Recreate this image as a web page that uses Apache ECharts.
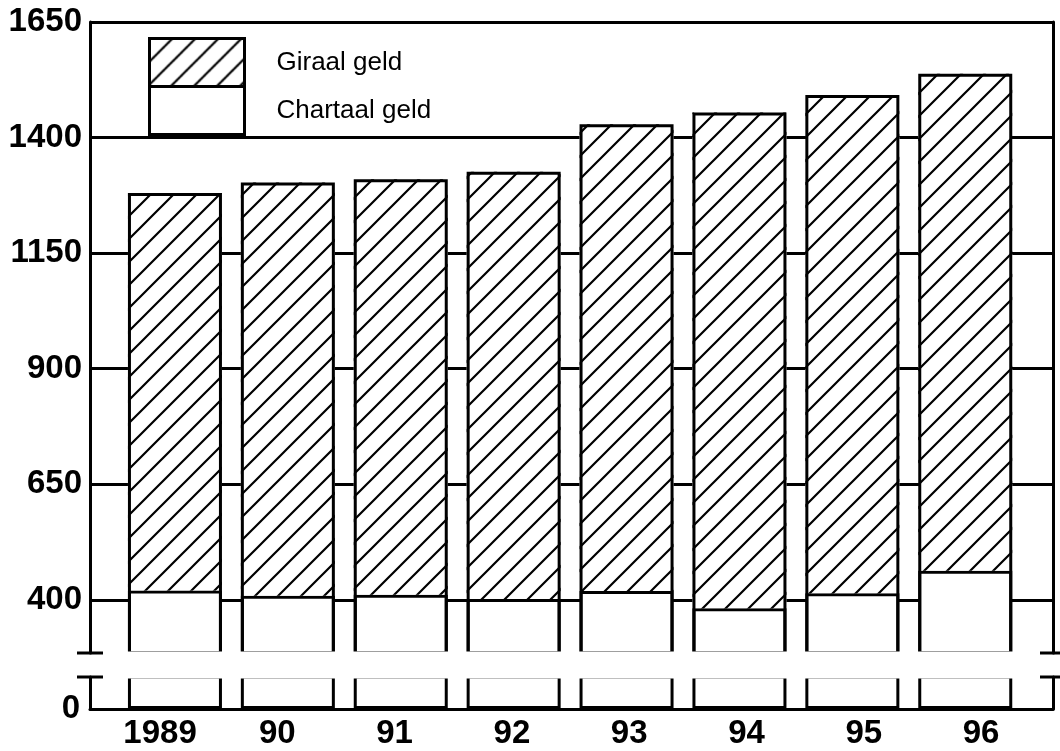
<!DOCTYPE html>
<html>
<head>
<meta charset="utf-8">
<script src="https://cdn.jsdelivr.net/npm/echarts@6/dist/echarts.min.js"></script>
<style>
  html,body{margin:0;padding:0;background:#fff;}
  #chart{width:1060px;height:751px;}
</style>
</head>
<body>
<div id="chart"></div>
<script>
  // waarden
  var years = ['1989', '90', '91', '92', '93', '94', '95', '96'];
  var chartaal = [420, 409, 411, 402, 419, 382, 414, 463];
  var giraal = [860, 894, 899, 924, 1010, 1072, 1078, 1075];
  var yTicks = [400, 650, 900, 1150, 1400, 1650];
  var yTicksLow = [0];

  var FONT = '"Liberation Sans", Arial, sans-serif';
  var yearIdx = years.map(function (y, i) { return i; });
  // totaal = omtrek van de gestapelde staaf
  var totaal = chartaal.map(function (v, i) { return v + giraal[i]; });

  // arcering "/" voor giraal geld
  function hatch() {
    var c = document.createElement('canvas');
    c.width = 23; c.height = 23;
    var g = c.getContext('2d');
    g.fillStyle = '#fff';
    g.fillRect(0, 0, 23, 23);
    g.strokeStyle = '#000';
    g.lineWidth = 2.2;
    g.beginPath();
    g.moveTo(-2, 25); g.lineTo(25, -2);
    g.moveTo(-2, 2); g.lineTo(2, -2);
    g.moveTo(21, 25); g.lineTo(25, 21);
    g.stroke();
    return c;
  }
  var hatchFill = {image: hatch(), repeat: 'repeat'};

  var barStyle = {color: '#fff', borderColor: '#000', borderWidth: 3};
  var lineBlack = {color: '#000', width: 3};
  var tickFont = {color: '#000', fontSize: 33, fontWeight: 'bold', fontFamily: FONT};

  // as-decoratie (lijn + dwarsstreep bij de onderbreking)
  function edgeAxis(grid, pos, min, max, sym) {
    return {
      gridIndex: grid, type: 'value', position: pos, min: min, max: max, z: 10,
      axisLine: {show: true, onZero: false, lineStyle: lineBlack, symbol: sym, symbolSize: [26, 3]},
      axisTick: {show: false}, axisLabel: {show: false}, splitLine: {show: false}
    };
  }
  function hiddenY(grid, min, max) {
    return {gridIndex: grid, type: 'value', min: min, max: max, show: false};
  }
  function hiddenCat(grid) {
    return {gridIndex: grid, type: 'category', data: years, show: false};
  }

  var chart = echarts.init(document.getElementById('chart'));
  var option = {
    animation: false,
    textStyle: {fontFamily: FONT},
    grid: [
      {left: 90, right: 7, top: 22, height: 631},       // kader boven
      {left: 118.5, right: 38.3, top: 22, height: 631}, // staven boven
      {left: 90, right: 7, top: 677, height: 32},       // kader onder
      {left: 118.5, right: 38.3, top: 677, height: 32}  // staven onder
    ],
    legend: {
      data: ['Giraal geld', 'Chartaal geld'],
      orient: 'vertical', left: 148, top: 37, padding: 0, itemGap: -3,
      itemWidth: 95, itemHeight: 48, icon: 'rect', selectedMode: false,
      itemStyle: {borderColor: '#000', borderWidth: 3},
      textStyle: {fontSize: 26, color: '#000', fontFamily: FONT, padding: [0, 0, 0, 27]}
    },
    xAxis: [
      {gridIndex: 0, type: 'value', min: 0, max: 1, show: false},
      hiddenCat(1),
      {
        gridIndex: 2, type: 'value', position: 'bottom', min: -0.597, max: 7.613, z: 10,
        axisLine: {onZero: false, lineStyle: lineBlack},
        axisTick: {show: false}, splitLine: {show: false},
        axisLabel: Object.assign({
          customValues: yearIdx,
          formatter: function (v) { return years[Math.round(v)]; },
          margin: 8
        }, tickFont)
      },
      hiddenCat(3)
    ],
    yAxis: [
      {
        gridIndex: 0, type: 'value', position: 'left', min: 285, max: 1650,
        axisLine: {show: false, onZero: false},
        axisTick: {show: false, customValues: yTicks},
        axisLabel: Object.assign({customValues: yTicks, margin: 8,
          formatter: function (v) { return String(v); }}, tickFont),
        splitLine: {show: true, lineStyle: {color: '#000', width: 3}}
      },
      edgeAxis(0, 'left', 285, 1650, ['rect', 'none']),
      edgeAxis(0, 'right', 285, 1650, ['rect', 'none']),
      hiddenY(1, 285, 1650),
      {
        gridIndex: 2, type: 'value', position: 'left', min: 0, max: 69, z: 10,
        axisLine: {show: true, onZero: false, lineStyle: lineBlack, symbol: ['none', 'rect'], symbolSize: [26, 3]},
        axisTick: {show: false, customValues: yTicksLow},
        axisLabel: Object.assign({customValues: yTicksLow, margin: 10}, tickFont),
        splitLine: {show: false}
      },
      edgeAxis(2, 'right', 0, 69, ['none', 'rect']),
      hiddenY(3, 0, 69)
    ],
    graphic: [
      // witte strook voor de onderbreking van de as
      {type: 'rect', z: 5, shape: {x: 0, y: 651.5, width: 1060, height: 27}, style: {fill: '#fff'}}
    ],
    series: [
      {
        name: 'Chartaal geld', type: 'bar', xAxisIndex: 1, yAxisIndex: 3, stack: 'geld',
        barWidth: 94, barGap: '-100%', data: chartaal, itemStyle: barStyle
      },
      {
        name: 'Giraal geld', type: 'bar', xAxisIndex: 1, yAxisIndex: 3, stack: 'geld',
        barWidth: 94, barGap: '-100%', data: giraal,
        itemStyle: {color: hatchFill, borderColor: '#000', borderWidth: 0}
      },
      {
        // omtrek van de hele staaf
        name: 'totaal', type: 'bar', xAxisIndex: 1, yAxisIndex: 3,
        barWidth: 94, barGap: '-100%', data: totaal, silent: true,
        itemStyle: {color: 'rgba(0,0,0,0)', borderColor: '#000', borderWidth: 3}
      },
      {
        name: 'Chartaal geld', type: 'bar', xAxisIndex: 3, yAxisIndex: 6,
        barWidth: 94, data: chartaal, itemStyle: barStyle
      }
    ]
  };
  chart.setOption(option);
</script>
</body>
</html>
